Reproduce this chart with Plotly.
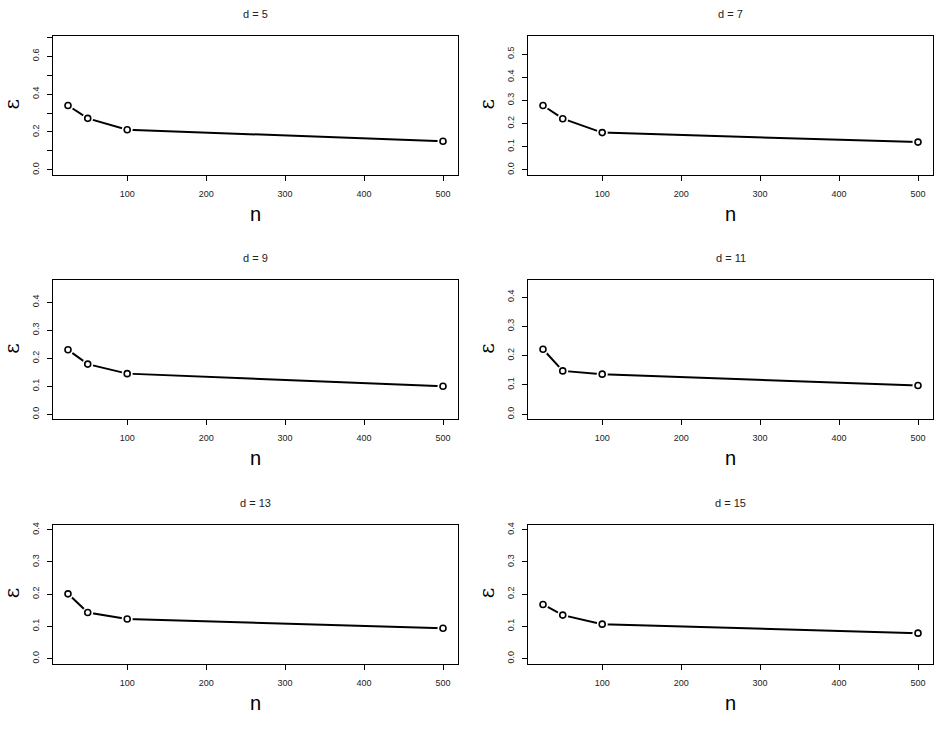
import plotly.graph_objects as go

# ---- data ----
n_values = [25, 50, 100, 500]
d_labels = ["d = 5", "d = 7", "d = 9", "d = 11", "d = 13", "d = 15"]
eps_d5 = [0.34, 0.272, 0.212, 0.151]
eps_d7 = [0.278, 0.221, 0.161, 0.120]
eps_d9 = [0.230, 0.179, 0.145, 0.100]
eps_d11 = [0.222, 0.148, 0.137, 0.098]
eps_d13 = [0.201, 0.143, 0.123, 0.094]
eps_d15 = [0.168, 0.135, 0.107, 0.079]
ylim_top = [0.68, 0.556, 0.46, 0.44, 0.40, 0.40]
x_ticks = [100, 200, 300, 400, 500]
series = [eps_d5, eps_d7, eps_d9, eps_d11, eps_d13, eps_d15]

W, H = 940, 753
FONT = "Liberation Sans, Arial, Helvetica, sans-serif"

col_x = [(53, 458), (528, 933)]
row_top = [34, 279, 524]
PH = 139.5

fig = go.Figure()
annotations = []
layout = dict(width=W, height=H, margin=dict(l=0, r=0, t=0, b=0),
              paper_bgcolor="white", plot_bgcolor="white", showlegend=False,
              font=dict(family=FONT, color="black"))

xmin, xmax = min(n_values), max(n_values)
xpad = 0.04 * (xmax - xmin)

for i, (lab, ys) in enumerate(zip(d_labels, series)):
    r, c = divmod(i, 2)
    x0, x1 = col_x[c]
    top = row_top[r]
    bot = top + PH
    k = "" if i == 0 else str(i + 1)
    xa, ya = "x" + k, "y" + k
    top_lim = ylim_top[i]
    ypad = 0.04 * top_lim
    yt = [j / 10 for j in range(0, 11) if j / 10 <= top_lim + ypad + 1e-9]
    if i == 0:
        ytext = [f"{v:.1f}" if (round(v * 10) % 2 == 0) else "" for v in yt]
    else:
        ytext = [f"{v:.1f}" for v in yt]

    # line
    fig.add_trace(go.Scatter(x=n_values, y=ys, mode="lines", xaxis=xa, yaxis=ya,
                             line=dict(color="black", width=2), hoverinfo="skip"))
    # white gap around points (R type="b")
    fig.add_trace(go.Scatter(x=n_values, y=ys, mode="markers", xaxis=xa, yaxis=ya,
                             marker=dict(symbol="circle", size=11, color="white",
                                         line=dict(width=0)), hoverinfo="skip"))
    # open circle points
    fig.add_trace(go.Scatter(x=n_values, y=ys, mode="markers", xaxis=xa, yaxis=ya,
                             marker=dict(symbol="circle-open", size=6, color="black",
                                         line=dict(width=1.6, color="black"))))

    layout["xaxis" + k] = dict(
        domain=[x0 / W, x1 / W], anchor=ya, range=[xmin - xpad, xmax + xpad],
        tickvals=x_ticks, ticktext=[str(v) for v in x_ticks],
        ticks="outside", ticklen=5, tickwidth=1, tickcolor="black",
        showline=True, linecolor="black", linewidth=1, mirror=True,
        showgrid=False, zeroline=False, tickfont=dict(size=9, family=FONT, color="#222"),
        ticklabelstandoff=5,
    )
    layout["yaxis" + k] = dict(
        domain=[1 - bot / H, 1 - top / H], anchor=xa, range=[-ypad, top_lim + ypad],
        tickvals=yt, ticktext=ytext, tickangle=-90,
        ticks="outside", ticklen=5, tickwidth=1, tickcolor="black",
        showline=True, linecolor="black", linewidth=1, mirror=True,
        showgrid=False, zeroline=False, tickfont=dict(size=9, family=FONT, color="#222"),
        ticklabelstandoff=4,
    )
    cx = (x0 + x1) / 2
    annotations.append(dict(text=lab, x=cx / W, y=1 - (top - 22) / H, xref="paper", yref="paper",
                            showarrow=False, xanchor="center", yanchor="middle",
                            font=dict(size=11, family=FONT, color="#222")))
    annotations.append(dict(text="n", x=cx / W, y=1 - (bot + 39) / H, xref="paper", yref="paper",
                            showarrow=False, xanchor="center", yanchor="middle",
                            font=dict(size=20, family=FONT, color="black")))
    annotations.append(dict(text="ε", x=(x0 - 41) / W, y=1 - (top + PH / 2 - 1) / H,
                            xref="paper", yref="paper", textangle=-90,
                            showarrow=False, xanchor="center", yanchor="middle",
                            font=dict(size=20, family="DejaVu Serif, serif", color="black")))

layout["annotations"] = annotations
fig.update_layout(**layout)
fig.write_html("out.html")
